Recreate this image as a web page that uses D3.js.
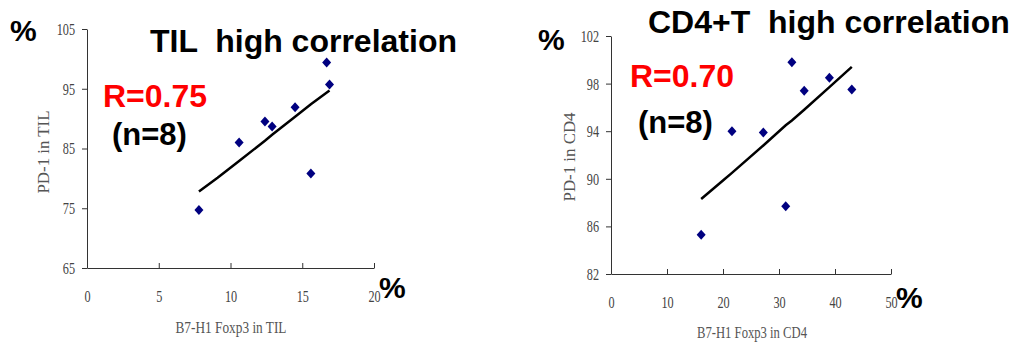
<!DOCTYPE html>
<html>
<head>
<meta charset="utf-8">
<script src="https://cdn.jsdelivr.net/npm/d3@7"></script>
<style>
    body { margin: 0; background: #fff; }
    text { white-space: pre; }
</style>
</head>
<body>
<svg id="svg" width="1014" height="345"></svg>
<script>
//TIL panel data
const tilX = [7.8, 10.6, 12.4, 12.9, 14.5, 15.6, 16.7, 16.9];
const tilY = [74.7, 86.0, 89.5, 88.7, 91.9, 80.8, 99.4, 95.7];
//trend line drawn in the TIL panel
const tilTrendX = [7.8, 9.1, 10.6, 12.4, 12.9, 14.5, 15.6, 16.9];
const tilTrendY = [77.8, 80.1, 82.9, 86.3, 87.3, 90.3, 92.4, 94.7];
const tilXTicks = [0, 5, 10, 15, 20];
const tilYTicks = [65, 75, 85, 95, 105];

//CD4 panel data
const cd4X = [16.1, 21.6, 27.2, 31.2, 32.3, 34.5, 39.0, 43.0];
const cd4Y = [85.3, 94.0, 93.9, 87.7, 99.8, 97.4, 98.5, 97.5];
const cd4TrendX = [16.1, 20.1, 21.6, 27.2, 31.2, 32.3, 34.5, 39.0, 43.0];
const cd4TrendY = [88.3, 89.9, 90.5, 92.8, 94.5, 94.9, 95.8, 97.7, 99.4];
const cd4XTicks = [0, 10, 20, 30, 40, 50];
const cd4YTicks = [82, 86, 90, 94, 98, 102];

var svg = d3.select("#svg");

function drawPanel(p) {
    var scaleX = d3.scaleLinear()
            .domain([p.xTicks[0], p.xTicks[p.xTicks.length - 1]])
            .range([p.left, p.right]);
    var scaleY = d3.scaleLinear()
            .domain([p.yTicks[0], p.yTicks[p.yTicks.length - 1]])
            .range([p.bottom, p.top]);

    //x axis, ticks pointing up into the plot
    var xAxis = d3.axisBottom(scaleX)
            .tickValues(p.xTicks)
            .tickSizeInner(-5)
            .tickSizeOuter(0)
            .tickPadding(22);
    var gx = svg.append("g")
            .attr("transform", "translate(0," + p.bottom + ")")
            .call(xAxis);

    var yAxis = d3.axisLeft(scaleY)
            .tickValues(p.yTicks)
            .tickSizeInner(5)
            .tickSizeOuter(0)
            .tickPadding(7);
    var gy = svg.append("g")
            .attr("transform", "translate(" + p.left + ",0)")
            .call(yAxis);

    //narrow serif look for the tick labels
    [gx, gy].forEach(function (g) {
        g.selectAll("path, line").attr("stroke", "#333");
        g.selectAll("text")
                .style("font-family", "'Liberation Serif', serif")
                .style("font-size", "17px")
                .attr("fill", "#444");
    });
    gx.selectAll("text").attr("transform", "scale(0.72,1)")
            .attr("x", 0);
    gy.selectAll("text").attr("transform", "scale(0.72,1)")
            .attr("x", -12 / 0.72);

    //trend line
    var line = d3.line()
            .x((d) => scaleX(d[0]))
            .y((d) => scaleY(d[1]));
    svg.append("path")
            .datum(p.trendX.map((x, i) => [x, p.trendY[i]]))
            .attr("d", line)
            .attr("fill", "none")
            .attr("stroke", "black")
            .attr("stroke-width", 2.5);

    //diamond markers
    svg.append("g")
            .selectAll("polygon")
            .data(p.xs.map((x, i) => [x, p.ys[i]]))
            .enter()
            .append("polygon")
            .attr("points", function (d) {
                var cx = scaleX(d[0]), cy = scaleY(d[1]);
                return [cx, cy - 5, cx + 4.5, cy, cx, cy + 5, cx - 4.5, cy].join(" ");
            })
            .attr("fill", "#000080");

    //axis titles
    svg.append("text")
            .attr("transform", "translate(" + p.yLabel[0] + "," + p.yLabel[1] + ") rotate(-90)")
            .attr("text-anchor", "middle")
            .attr("dy", "0.35em")
            .attr("textLength", p.yLabel[2])
            .attr("lengthAdjust", "spacingAndGlyphs")
            .style("font-family", "'Liberation Serif', serif")
            .style("font-size", "17px")
            .attr("fill", "#555")
            .text(p.yText);
    svg.append("text")
            .attr("x", p.xLabel[0])
            .attr("y", p.xLabel[1])
            .attr("text-anchor", "middle")
            .attr("dy", "0.35em")
            .attr("textLength", p.xLabel[2])
            .attr("lengthAdjust", "spacingAndGlyphs")
            .style("font-family", "'Liberation Serif', serif")
            .style("font-size", "17px")
            .attr("fill", "#555")
            .text(p.xText);

    //big bold annotations
    p.notes.forEach(function (n) {
        svg.append("text")
                .attr("x", n.x)
                .attr("y", n.y)
                .style("font-family", "'Liberation Sans', Arial, sans-serif")
                .style("font-weight", "bold")
                .style("font-size", n.size + "px")
                .attr("fill", n.color || "black")
                .text(n.text);
    });
}

drawPanel({
    xs: tilX, ys: tilY, trendX: tilTrendX, trendY: tilTrendY,
    xTicks: tilXTicks, yTicks: tilYTicks,
    left: 87, right: 374, top: 29, bottom: 268,
    yText: "PD-1 in TIL", yLabel: [43, 152, 83],
    xText: "B7-H1 Foxp3 in TIL", xLabel: [231, 327, 111],
    notes: [
        {text: "TIL  high correlation", x: 150, y: 52, size: 32},
        {text: "%", x: 10, y: 41, size: 30},
        {text: "%", x: 379, y: 298, size: 30},
        {text: "R=0.75", x: 103, y: 107, size: 32, color: "#ff0000"},
        {text: "(n=8)", x: 112, y: 145, size: 31}
    ]
});

drawPanel({
    xs: cd4X, ys: cd4Y, trendX: cd4TrendX, trendY: cd4TrendY,
    xTicks: cd4XTicks, yTicks: cd4YTicks,
    left: 611, right: 891, top: 36, bottom: 274,
    yText: "PD-1 in CD4", yLabel: [569, 157, 89],
    xText: "B7-H1 Foxp3 in CD4", xLabel: [752, 332, 110],
    notes: [
        {text: "CD4+T  high correlation", x: 648, y: 33, size: 32},
        {text: "%", x: 538, y: 50, size: 30},
        {text: "%", x: 896, y: 308, size: 30},
        {text: "R=0.70", x: 630, y: 87, size: 32, color: "#ff0000"},
        {text: "(n=8)", x: 638, y: 133, size: 31}
    ]
});
</script>
</body>
</html>
